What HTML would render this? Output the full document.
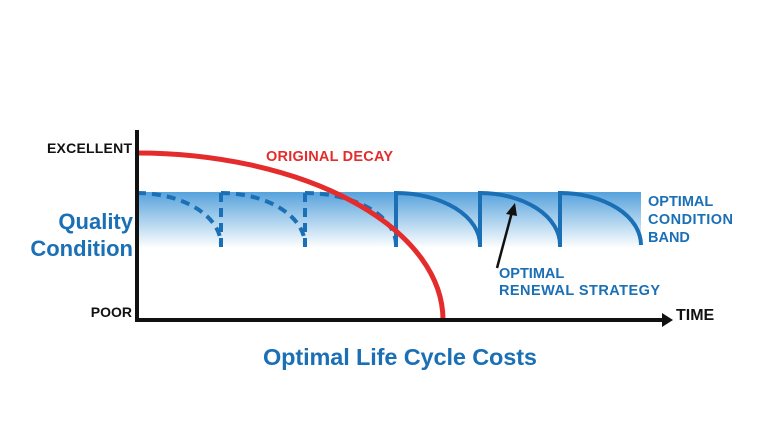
<!DOCTYPE html>
<html><head><style>body{margin:0;background:#fff}svg{display:block}text{font-family:"Liberation Sans",sans-serif;font-weight:bold}</style></head>
<body>
<svg width="774" height="429" viewBox="0 0 774 429" xmlns="http://www.w3.org/2000/svg">
<defs><linearGradient id="g" x1="0" y1="0" x2="0" y2="1"><stop offset="0" stop-color="#56a2dc"/><stop offset="1" stop-color="#ffffff"/></linearGradient></defs>
<rect x="137" y="192" width="504" height="56" fill="url(#g)"/>
<g fill="none" stroke="#1a6fb5" stroke-width="4">
<g stroke-dasharray="9,6">
<path d="M137,193 A84,52 0 0 1 221,245 M221,247 V193"/>
<path d="M221,193 A84,52 0 0 1 305,245 M305,247 V193"/>
<path d="M305,193 A91,52 0 0 1 396,245"/>
</g>
<path d="M396,247 V193 A84,52 0 0 1 480,245 M480,247 V193 A80,52 0 0 1 560,245 M560,247 V193 A81,52 0 0 1 641,245"/>
</g>
<path d="M137,153 A306,167 0 0 1 443,320" fill="none" stroke="#e52c2c" stroke-width="5"/>
<path d="M137,130 V320 H664" fill="none" stroke="#111" stroke-width="4"/>
<polygon points="662,313 673,320 662,327" fill="#111"/>
<line x1="497" y1="268" x2="512" y2="212" stroke="#111" stroke-width="2.5"/>
<polygon points="515,203 506,214 517,216" fill="#111"/>
<text x="47" y="153" font-size="14" fill="#111" textLength="85">EXCELLENT</text>
<text x="133" y="229" font-size="22" fill="#1a6fb5" text-anchor="end">Quality</text>
<text x="133" y="256" font-size="22" fill="#1a6fb5" text-anchor="end">Condition</text>
<text x="132" y="317" font-size="14" fill="#111" text-anchor="end">POOR</text>
<text x="676" y="320" font-size="16" fill="#111">TIME</text>
<text x="266" y="161" font-size="14.5" fill="#e52c2c" textLength="127">ORIGINAL DECAY</text>
<text x="648" y="206" font-size="14.5" fill="#1a6fb5">OPTIMAL</text>
<text x="648" y="224" font-size="14.5" fill="#1a6fb5" textLength="85">CONDITION</text>
<text x="648" y="242" font-size="14.5" fill="#1a6fb5">BAND</text>
<text x="499" y="278" font-size="14.5" fill="#1a6fb5">OPTIMAL</text>
<text x="499" y="295" font-size="14.5" fill="#1a6fb5" textLength="161">RENEWAL  STRATEGY</text>
<text x="400" y="365" font-size="23.5" fill="#1a6fb5" text-anchor="middle" textLength="274">Optimal Life Cycle Costs</text>
</svg>
</body></html>
